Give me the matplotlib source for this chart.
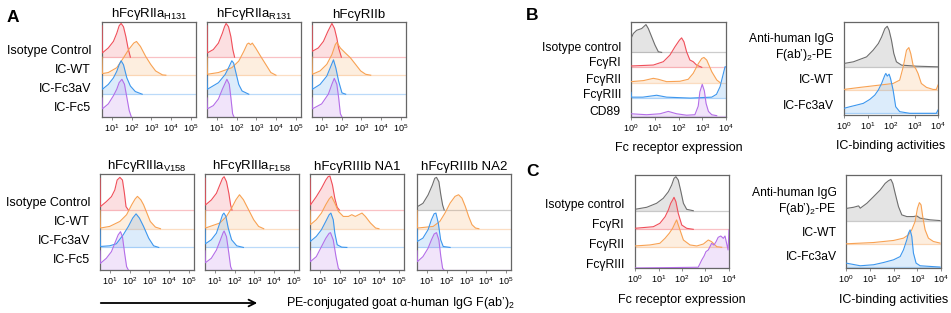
import numpy as np
import matplotlib
matplotlib.use('Agg')
import matplotlib.pyplot as plt

plt.rcParams['font.family'] = ['Liberation Sans', 'DejaVu Sans']
plt.rcParams['mathtext.fontset'] = 'custom'
plt.rcParams['mathtext.rm'] = 'Liberation Sans'
plt.rcParams['mathtext.it'] = 'Liberation Sans:italic'
plt.rcParams['mathtext.default'] = 'regular'

# ---- data: histogram outlines ----
# each curve = list of (log10 fluorescence, normalised count)

# panel A, top row
h131 = [
    [(0.49, 0.33), (0.51, 0.045), (0.81, 0.097), (1.07, 0.166), (1.24, 0.252), (1.36, 0.33), (1.46, 0.355),
     (1.58, 0.32), (1.70, 0.217), (1.81, 0.097), (1.93, 0.0)],
    [(0.49, 0.19), (0.51, 0.017), (0.81, 0.028), (1.24, 0.079), (1.58, 0.183), (1.84, 0.269), (2.10, 0.338),
     (2.24, 0.355), (2.44, 0.303), (2.70, 0.2), (2.96, 0.114), (3.21, 0.045), (3.56, 0.003), (3.73, 0.0)],
    [(0.49, 0.19), (0.51, 0.052), (0.81, 0.103), (1.07, 0.172), (1.24, 0.241), (1.36, 0.31), (1.46, 0.352),
     (1.58, 0.31), (1.75, 0.172), (1.93, 0.086), (2.18, 0.028), (2.53, 0.0)],
    [(0.49, 0.2), (0.51, 0.086), (0.81, 0.138), (1.07, 0.224), (1.24, 0.293), (1.36, 0.362), (1.50, 0.397),
     (1.63, 0.345), (1.75, 0.207), (1.87, 0.069), (1.98, 0.0)],
]
r131 = [
    [(0.49, 0.33), (0.51, 0.045), (0.81, 0.08), (1.07, 0.148), (1.27, 0.252), (1.38, 0.321), (1.46, 0.355),
     (1.58, 0.321), (1.70, 0.217), (1.80, 0.08), (1.89, 0.0)],
    [(0.49, 0.19), (0.51, 0.01), (1.07, 0.028), (1.75, 0.079), (2.10, 0.148), (2.36, 0.252), (2.53, 0.328),
     (2.61, 0.338), (2.70, 0.321), (2.79, 0.338), (2.96, 0.286), (3.21, 0.2), (3.47, 0.114), (3.73, 0.028),
     (3.99, 0.0)],
    [(0.49, 0.19), (0.51, 0.052), (1.07, 0.121), (1.41, 0.207), (1.58, 0.276), (1.75, 0.352), (1.84, 0.328),
     (1.96, 0.224), (2.10, 0.103), (2.27, 0.034), (2.61, 0.0)],
    [(0.49, 0.2), (0.51, 0.086), (0.81, 0.12), (1.07, 0.19), (1.27, 0.293), (1.50, 0.397), (1.62, 0.345),
     (1.70, 0.207), (1.79, 0.034), (1.86, 0.0)],
]
iib = [
    [(0.49, 0.33), (0.51, 0.062), (0.81, 0.097), (1.07, 0.166), (1.29, 0.269), (1.50, 0.355), (1.63, 0.303),
     (1.75, 0.2), (1.84, 0.097), (1.98, 0.0)],
    [(0.49, 0.19), (0.51, 0.01), (0.90, 0.045), (1.24, 0.114), (1.50, 0.217), (1.67, 0.321), (1.75, 0.345),
     (1.93, 0.286), (2.18, 0.234), (2.44, 0.183), (2.70, 0.114), (2.96, 0.045), (3.21, 0.01), (3.47, 0.0)],
    [(0.49, 0.19), (0.51, 0.052), (0.90, 0.103), (1.24, 0.19), (1.41, 0.276), (1.58, 0.362), (1.70, 0.276),
     (1.84, 0.138), (2.01, 0.014), (2.2, 0.0)],
    [(0.49, 0.2), (0.51, 0.086), (0.98, 0.138), (1.32, 0.241), (1.50, 0.345), (1.62, 0.407), (1.75, 0.345),
     (1.84, 0.207), (1.93, 0.034), (2.01, 0.0)],
]

# panel A, bottom row
v158 = [
    [(0.49, 0.33), (0.51, 0.035), (0.81, 0.087), (1.07, 0.139), (1.24, 0.208), (1.36, 0.312), (1.50, 0.34),
     (1.63, 0.312), (1.73, 0.174), (1.81, 0.035), (1.93, 0.0)],
    [(0.49, 0.19), (0.51, 0.007), (0.98, 0.024), (1.50, 0.076), (1.84, 0.146), (2.10, 0.25), (2.27, 0.309),
     (2.39, 0.337), (2.56, 0.302), (2.70, 0.25), (2.87, 0.163), (3.04, 0.076), (3.30, 0.017), (3.56, 0.0)],
    [(0.49, 0.19), (0.51, 0.01), (0.98, 0.017), (1.32, 0.038), (1.67, 0.132), (1.93, 0.219), (2.15, 0.306),
     (2.32, 0.35), (2.49, 0.306), (2.70, 0.219), (2.96, 0.097), (3.21, 0.017), (3.47, 0.0)],
    [(0.49, 0.2), (0.51, 0.069), (0.81, 0.122), (1.07, 0.191), (1.24, 0.278), (1.41, 0.365), (1.53, 0.399),
     (1.63, 0.347), (1.74, 0.174), (1.84, 0.035), (1.93, 0.0)],
]
f158 = [
    [(0.49, 0.33), (0.51, 0.052), (0.81, 0.104), (1.07, 0.174), (1.24, 0.26), (1.38, 0.33), (1.46, 0.347),
     (1.58, 0.295), (1.70, 0.174), (1.79, 0.052), (1.86, 0.0)],
    [(0.49, 0.19), (0.51, 0.007), (1.24, 0.059), (1.58, 0.128), (1.84, 0.215), (2.06, 0.302), (2.24, 0.354),
     (2.44, 0.302), (2.70, 0.198), (2.96, 0.094), (3.21, 0.024), (3.47, 0.0)],
    [(0.49, 0.19), (0.51, 0.038), (0.81, 0.08), (1.07, 0.149), (1.24, 0.253), (1.38, 0.34), (1.45, 0.358),
     (1.55, 0.323), (1.67, 0.201), (1.84, 0.08), (2.10, 0.017), (2.44, 0.0)],
    [(0.49, 0.2), (0.51, 0.076), (0.81, 0.122), (1.07, 0.208), (1.27, 0.313), (1.41, 0.389), (1.46, 0.406),
     (1.58, 0.347), (1.70, 0.174), (1.79, 0.035), (1.86, 0.0)],
]
na1 = [
    [(0.49, 0.33), (0.51, 0.052), (0.81, 0.139), (1.07, 0.226), (1.29, 0.312), (1.41, 0.347), (1.50, 0.354),
     (1.63, 0.26), (1.75, 0.121), (1.87, 0.028), (1.98, 0.0)],
    [(0.49, 0.19), (0.51, 0.042), (0.81, 0.094), (1.07, 0.163), (1.29, 0.25), (1.46, 0.309), (1.58, 0.337),
     (1.75, 0.267), (1.93, 0.181), (2.18, 0.128), (2.44, 0.128), (2.61, 0.146), (2.79, 0.128), (2.96, 0.146),
     (3.13, 0.163), (3.30, 0.128), (3.56, 0.059), (3.82, 0.007), (3.99, 0.0)],
    [(0.49, 0.19), (0.51, 0.063), (0.81, 0.115), (1.07, 0.184), (1.29, 0.271), (1.46, 0.34), (1.55, 0.358),
     (1.67, 0.288), (1.75, 0.149), (1.87, 0.028), (2.10, 0.003), (2.36, 0.0)],
    [(0.49, 0.2), (0.51, 0.087), (0.81, 0.139), (1.07, 0.243), (1.29, 0.33), (1.46, 0.382), (1.53, 0.389),
     (1.67, 0.313), (1.81, 0.139), (1.93, 0.017), (2.01, 0.0)],
]
na2 = [
    [(0.49, 0.1), (0.51, 0.035), (0.79, 0.069), (1.05, 0.156), (1.27, 0.26), (1.39, 0.33), (1.48, 0.34),
     (1.60, 0.295), (1.70, 0.156), (1.79, 0.052), (1.87, 0.0)],
    [(0.49, 0.19), (0.51, 0.007), (1.31, 0.024), (1.65, 0.076), (1.91, 0.163), (2.17, 0.267), (2.42, 0.337),
     (2.60, 0.354), (2.77, 0.319), (2.94, 0.233), (3.11, 0.128), (3.28, 0.042), (3.46, 0.007), (3.63, 0.0)],
    [(0.49, 0.19), (0.51, 0.063), (0.79, 0.097), (1.05, 0.184), (1.22, 0.288), (1.36, 0.351), (1.45, 0.358),
     (1.57, 0.254), (1.69, 0.08), (1.82, 0.01), (2.17, 0.0)],
    [(0.49, 0.2), (0.51, 0.087), (0.79, 0.139), (1.05, 0.226), (1.22, 0.313), (1.36, 0.375), (1.48, 0.389),
     (1.60, 0.313), (1.70, 0.139), (1.79, 0.017), (1.86, 0.0)],
]

# panel B
b_receptors = [
    [(0.0, 0.146), (0.1, 0.199), (0.24, 0.233), (0.45, 0.251), (0.63, 0.293), (0.73, 0.251), (0.87, 0.164),
     (1.01, 0.077), (1.15, 0.007), (1.29, 0.0)],
    [(0.0, 0.014), (0.94, 0.024), (1.36, 0.059), (1.64, 0.129), (1.85, 0.216), (2.04, 0.286), (2.13, 0.31),
     (2.23, 0.268), (2.34, 0.164), (2.48, 0.077), (2.62, 0.059), (2.76, 0.024), (2.98, 0.0)],
    [(0.0, 0.01), (0.52, 0.021), (0.94, 0.045), (1.15, 0.035), (1.50, 0.01), (2.06, 0.014), (2.41, 0.035),
     (2.62, 0.098), (2.84, 0.202), (2.98, 0.254), (3.07, 0.265), (3.19, 0.237), (3.40, 0.115), (3.61, 0.028),
     (3.75, 0.0)],
    [(0.0, 0.06), (0.02, 0.01), (0.5, 0.01), (1.08, 0.03), (1.5, 0.01), (2.5, 0.0), (3.4, 0.01), (3.6, 0.04),
     (3.75, 0.12), (3.88, 0.25), (3.96, 0.33), (4.0, 0.33)],
    [(0.0, 0.02), (0.66, 0.01), (1.22, 0.02), (1.57, 0.045), (1.92, 0.02), (2.34, 0.005), (2.69, 0.01),
     (2.83, 0.1), (2.90, 0.25), (3.0, 0.33), (3.09, 0.26), (3.16, 0.13), (3.26, 0.045), (3.40, 0.01), (3.61, 0.0)],
]
b_binding = [
    [(0.0, 0.036), (0.40, 0.054), (0.96, 0.107), (1.24, 0.179), (1.46, 0.25), (1.60, 0.321), (1.74, 0.411),
     (1.84, 0.436), (1.92, 0.393), (2.02, 0.286), (2.12, 0.143), (2.23, 0.054), (2.45, 0.018), (3.08, 0.007),
     (4.0, 0.0)],
    [(0.0, 0.007), (0.68, 0.029), (1.53, 0.054), (2.09, 0.071), (2.37, 0.107), (2.52, 0.25), (2.66, 0.429),
     (2.76, 0.457), (2.84, 0.393), (2.94, 0.268), (3.05, 0.232), (3.15, 0.179), (3.29, 0.071), (3.51, 0.029),
     (3.79, 0.007), (3.93, 0.007), (4.0, 0.054)],
    [(0.0, 0.054), (0.25, 0.071), (0.54, 0.089), (0.82, 0.107), (1.10, 0.15), (1.31, 0.196), (1.46, 0.25),
     (1.60, 0.321), (1.74, 0.411), (1.78, 0.429), (1.84, 0.4), (1.92, 0.421), (1.98, 0.375), (2.09, 0.25),
     (2.2, 0.071), (2.37, 0.018), (2.80, 0.0), (3.93, 0.0), (4.0, 0.036)],
]

# panel C
c_receptors = [
    [(0.0, 0.015), (0.5, 0.037), (0.92, 0.08), (1.2, 0.133), (1.42, 0.204), (1.56, 0.276), (1.66, 0.348),
     (1.74, 0.366), (1.84, 0.33), (1.94, 0.222), (2.06, 0.08), (2.2, 0.015), (2.48, 0.0)],
    [(0.0, 0.011), (0.78, 0.028), (1.06, 0.065), (1.28, 0.135), (1.42, 0.208), (1.52, 0.28), (1.6, 0.315),
     (1.66, 0.344), (1.74, 0.297), (1.84, 0.172), (1.99, 0.046), (2.2, 0.011), (2.48, 0.0)],
    [(0.0, 0.014), (0.64, 0.025), (1.06, 0.043), (1.28, 0.097), (1.46, 0.151), (1.6, 0.204), (1.7, 0.258),
     (1.77, 0.294), (1.89, 0.204), (2.06, 0.078), (2.34, 0.025), (2.63, 0.014), (2.91, 0.035), (3.12, 0.078),
     (3.26, 0.06), (3.48, 0.006), (3.69, 0.0)],
    [(0.0, 0.0), (2.69, 0.008), (2.84, 0.086), (2.94, 0.129), (3.02, 0.176), (3.12, 0.194), (3.19, 0.229),
     (3.26, 0.265), (3.36, 0.247), (3.45, 0.283), (3.54, 0.33), (3.65, 0.344), (3.76, 0.319), (3.83, 0.344),
     (3.96, 0.194), (4.0, 0.41)],
]
c_binding = [
    [(0.0, 0.13), (0.32, 0.143), (0.53, 0.158), (0.6, 0.133), (0.88, 0.186), (1.16, 0.257), (1.44, 0.329),
     (1.65, 0.4), (1.79, 0.429), (1.89, 0.443), (1.97, 0.4), (2.07, 0.293), (2.21, 0.15), (2.35, 0.061),
     (2.56, 0.043), (2.84, 0.043), (2.98, 0.05), (3.12, 0.026), (3.54, 0.008), (3.96, 0.0)],
    [(0.0, 0.003), (1.16, 0.017), (2.0, 0.039), (2.42, 0.064), (2.63, 0.1), (2.77, 0.154), (2.91, 0.243),
     (3.01, 0.386), (3.09, 0.446), (3.16, 0.421), (3.23, 0.296), (3.33, 0.154), (3.47, 0.064), (3.68, 0.028),
     (3.96, 0.011)],
    [(0.0, 0.043), (0.6, 0.014), (1.16, 0.025), (1.58, 0.049), (2.0, 0.078), (2.28, 0.113), (2.42, 0.185),
     (2.56, 0.293), (2.63, 0.364), (2.7, 0.4), (2.77, 0.329), (2.84, 0.15), (2.95, 0.043), (3.12, 0.014),
     (3.54, 0.007), (3.96, 0.0)],
]

a_titles_top = ['hFcγRIIa$_{H131}$', 'hFcγRIIa$_{R131}$', 'hFcγRIIb']
a_titles_bottom = ['hFcγRIIIa$_{V158}$', 'hFcγRIIIa$_{F158}$', 'hFcγRIIIb NA1', 'hFcγRIIIb NA2']
a_rows = ['Isotype Control', 'IC-WT', 'IC-Fc3aV', 'IC-Fc5']
b_rows = ['Isotype control', 'FcγRI', 'FcγRII', 'FcγRIII', 'CD89']
c_rows = ['Isotype control', 'FcγRI', 'FcγRII', 'FcγRIII']
bind_rows = ['Anti-human IgG\nF(ab’)$_2$-PE', 'IC-WT', 'IC-Fc3aV']

# ---- style ----
GRAY, RED, ORANGE, BLUE, PURPLE = '#6e6e6e', '#f04f5a', '#f8a253', '#3d97ee', '#b46ee8'
W, H = 951, 313
fig = plt.figure(figsize=(W / 100, H / 100), dpi=100)


def box(l, t, w, h):
    return fig.add_axes([l / W, 1 - (t + h) / H, w / W, h / H])


def ftext(x, y, s, **kw):
    fig.text(x / W, 1 - y / H, s, **kw)


def draw(ax, curves, offsets, colors, xlim, ticks):
    for pts, base, c in zip(curves, offsets, colors):
        pts = np.array(pts)
        x = 10 ** pts[:, 0]
        y = base + pts[:, 1]
        ax.axhline(base, color=c, lw=0.9, alpha=0.35, zorder=1)
        ax.fill_between(x, base, y, color=c, alpha=0.18, lw=0, zorder=1)
        ax.plot(x, y, color=c, lw=0.8, zorder=3)
    ax.set_xscale('log')
    ax.set_xlim(10 ** xlim[0], 10 ** xlim[1])
    ax.set_ylim(0, 1)
    ax.set_xticks([10.0 ** t for t in ticks])
    ax.set_yticks([])
    ax.tick_params(axis='x', which='major', length=2, width=0.6, color='#777', labelsize=6.5, pad=1.5)
    ax.tick_params(axis='x', which='minor', length=1.2, width=0.5, color='#999')
    for s in ax.spines.values():
        s.set_color('#666')
        s.set_linewidth(0.9)


a_cols = [RED, ORANGE, BLUE, PURPLE]
a_xlim = (0.49, 5.26)
a_ticks = [1, 2, 3, 4, 5]

# panel A top row
for data, title, left in zip([h131, r131, iib], a_titles_top, [102, 207, 312]):
    ax = box(left, 22, 94, 95)
    draw(ax, data, [0.63, 0.44, 0.24, 0.0], a_cols, a_xlim, a_ticks)
    ax.set_title(title, fontsize=9.5, pad=3)
for lab, y in zip(a_rows, [51, 70, 89, 108]):
    ftext(91, y, lab, ha='right', va='center', fontsize=9)

# panel A bottom row
for data, title, left in zip([v158, f158, na1, na2], a_titles_bottom, [100, 205, 310, 417]):
    cols = [GRAY] + a_cols[1:] if data is na2 else a_cols
    ax = box(left, 174, 94, 96)
    draw(ax, data, [0.625, 0.43, 0.235, 0.0], cols, a_xlim, a_ticks)
    ax.set_title(title, fontsize=9.5, pad=3)
for lab, y in zip(a_rows, [203, 222, 241, 260]):
    ftext(90, y, lab, ha='right', va='center', fontsize=9)

fig.add_artist(matplotlib.patches.FancyArrowPatch(
    (98 / W, 1 - 303 / H), (260 / W, 1 - 303 / H), transform=fig.transFigure,
    arrowstyle='->', mutation_scale=12, lw=1.3, color='black'))
ftext(286, 303, 'PE-conjugated goat α-human IgG F(ab’)$_2$', ha='left', va='center', fontsize=9)

# panel B
ax = box(631, 22, 95, 95)
draw(ax, b_receptors, [0.68, 0.523, 0.362, 0.199, 0.014], [GRAY, RED, ORANGE, BLUE, PURPLE], (0, 4), [0, 1, 2, 3, 4])
ax.set_xlabel('Fc receptor expression', fontsize=9, labelpad=6)
for lab, y in zip(b_rows, [48, 63, 80, 95, 112]):
    ftext(621, y, lab, ha='right', va='center', fontsize=8.7)

ax = box(844, 22, 94, 93)
draw(ax, b_binding, [0.518, 0.268, 0.018], [GRAY, ORANGE, BLUE], (0, 4), [0, 1, 2, 3, 4])
ax.set_xlabel('IC-binding activities', fontsize=9, labelpad=6)
for lab, y in zip(bind_rows, [48, 80, 106]):
    ftext(834, y, lab, ha='right', va='center', fontsize=8.7, linespacing=1.2)

# panel C
ax = box(635, 175, 94, 93)
draw(ax, c_receptors, [0.616, 0.416, 0.223, 0.0], [GRAY, RED, ORANGE, PURPLE], (0, 4), [0, 1, 2, 3, 4])
ax.set_xlabel('Fc receptor expression', fontsize=9, labelpad=7)
for lab, y in zip(c_rows, [205, 225, 245, 265]):
    ftext(624, y, lab, ha='right', va='center', fontsize=8.7)

ax = box(846, 175, 95, 93)
draw(ax, c_binding, [0.51, 0.257, 0.01], [GRAY, ORANGE, BLUE], (0, 4), [0, 1, 2, 3, 4])
ax.set_xlabel('IC-binding activities', fontsize=9, labelpad=7)
for lab, y in zip(bind_rows, [202, 233, 257]):
    ftext(837, y, lab, ha='right', va='center', fontsize=8.7, linespacing=1.2)

# panel letters
ftext(7, 17, 'A', fontsize=12.5, fontweight='bold', va='center')
ftext(526, 16, 'B', fontsize=12.5, fontweight='bold', va='center')
ftext(526, 172, 'C', fontsize=12.5, fontweight='bold', va='center')

fig.savefig('out.png', dpi=100)
